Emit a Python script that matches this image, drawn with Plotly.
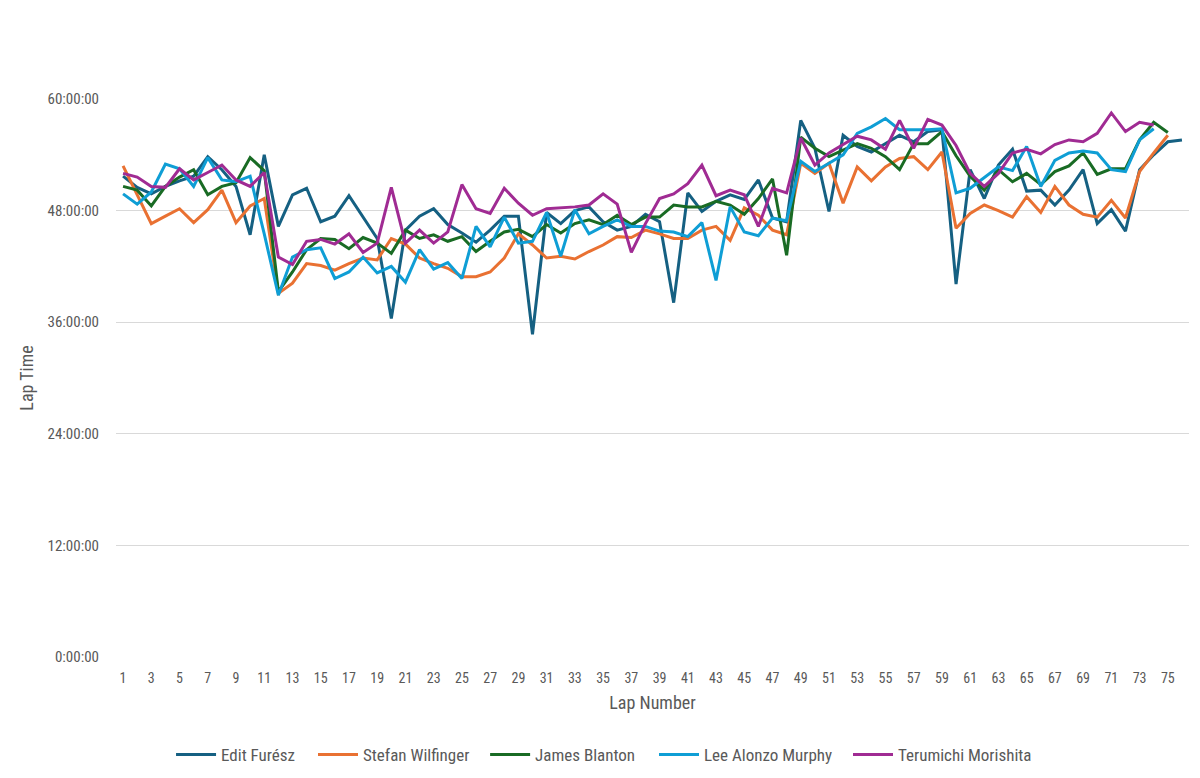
import plotly.graph_objects as go

edit_furesz = [51.7, 50.5, 49.8, 50.6, 51.2, 51.7, 53.8, 52.4, 50.6, 45.4, 54.0, 46.3, 49.7, 50.4, 46.8, 47.4, 49.6, 47.3, 45.0, 36.4,
               45.9, 47.4, 48.2, 46.5, 45.6, 44.6, 45.9, 47.4, 47.4, 34.7, 47.8, 46.6, 48.0, 48.4, 46.8, 45.9, 46.3, 47.6, 46.8, 38.1,
               49.9, 47.9, 49.0, 49.7, 49.2, 51.3, 47.2, 46.8, 57.7, 54.7, 47.9, 56.1, 54.9, 54.3, 55.2, 56.1, 55.4, 56.5, 56.7, 40.1,
               52.4, 49.3, 52.9, 54.6, 50.1, 50.2, 48.6, 50.2, 52.4, 46.6, 48.1, 45.8, 52.4, 54.0, 55.4, 55.6]
stefan_wilfinger = [52.8, 49.7, 46.6, 47.4, 48.2, 46.7, 48.1, 50.2, 46.7, 48.5, 49.3, 39.1, 40.2, 42.3, 42.1, 41.6, 42.3, 42.9, 42.7, 45.0,
                    44.4, 42.9, 42.3, 41.8, 40.9, 40.9, 41.4, 42.9, 45.5, 44.3, 42.9, 43.1, 42.8, 43.6, 44.3, 45.2, 45.1, 45.9, 45.5, 45.0,
                    45.0, 45.9, 46.3, 44.8, 48.3, 47.5, 45.9, 45.4, 53.1, 52.0, 53.1, 48.8, 52.7, 51.2, 52.7, 53.6, 53.8, 52.4, 54.3, 46.1,
                    47.7, 48.6, 48.0, 47.3, 49.5, 47.8, 50.6, 48.6, 47.6, 47.3, 49.1, 47.2, 52.2, 54.2, 56.1]
james_blanton = [50.6, 50.2, 48.5, 50.6, 51.6, 52.4, 49.7, 50.6, 51.0, 53.7, 52.3, 39.3, 41.4, 43.8, 45.0, 44.9, 43.9, 45.1, 44.5, 43.4,
                 45.9, 45.0, 45.4, 44.7, 45.2, 43.6, 44.7, 45.7, 46.0, 45.2, 46.5, 45.6, 46.6, 47.0, 46.5, 47.5, 46.5, 47.3, 47.3, 48.6,
                 48.4, 48.4, 49.0, 48.6, 47.6, 49.3, 51.4, 43.2, 55.9, 54.7, 53.8, 54.5, 55.2, 54.7, 53.8, 52.4, 55.2, 55.2, 56.5, 53.9,
                 51.7, 50.2, 52.4, 51.1, 52.0, 50.8, 52.2, 52.8, 54.2, 51.9, 52.5, 52.5, 55.6, 57.5, 56.4]
lee_alonzo_murphy = [49.8, 48.7, 50.0, 53.0, 52.5, 50.6, 53.7, 51.3, 51.1, 51.7, 45.5, 38.9, 43.0, 43.8, 44.0, 40.7, 41.4, 43.0, 41.3, 42.0,
                     40.3, 43.8, 41.7, 42.4, 40.7, 46.3, 44.1, 47.3, 44.5, 44.7, 47.8, 43.1, 48.1, 45.5, 46.3, 47.0, 46.3, 46.3, 45.8, 45.7,
                     45.2, 46.7, 40.5, 48.4, 45.7, 45.3, 47.2, 46.9, 53.3, 52.2, 53.1, 54.0, 56.3, 57.0, 57.9, 56.7, 56.7, 56.7, 56.8, 49.9,
                     50.4, 51.6, 52.7, 52.3, 54.9, 50.6, 53.4, 54.2, 54.4, 54.2, 52.4, 52.2, 55.6, 56.8]
terumichi_morishita = [52.0, 51.6, 50.6, 50.5, 52.5, 51.3, 52.1, 52.9, 51.3, 50.6, 52.1, 43.0, 42.2, 44.7, 44.9, 44.4, 45.5, 43.5, 44.5, 50.5,
                       44.5, 45.9, 44.5, 45.7, 50.8, 48.2, 47.7, 50.4, 48.8, 47.5, 48.2, 48.3, 48.4, 48.6, 49.8, 48.7, 43.5, 46.6, 49.3, 49.8,
                       50.9, 52.9, 49.6, 50.2, 49.7, 46.3, 50.4, 49.9, 55.8, 52.9, 54.2, 55.1, 56.0, 55.6, 54.6, 57.7, 54.7, 57.8, 57.2, 55.0,
                       52.0, 50.6, 52.0, 54.2, 54.6, 54.1, 55.1, 55.6, 55.4, 56.3, 58.5, 56.5, 57.5, 57.2]

series_names = ["Edit Furész", "Stefan Wilfinger", "James Blanton", "Lee Alonzo Murphy", "Terumichi Morishita"]
series_values = [edit_furesz, stefan_wilfinger, james_blanton, lee_alonzo_murphy, terumichi_morishita]
colors = ["#156082", "#E97132", "#196B24", "#0F9ED5", "#A02B93"]

y_tick_vals = [0, 12, 24, 36, 48, 60]
y_tick_text = ["0:00:00", "12:00:00", "24:00:00", "36:00:00", "48:00:00", "60:00:00"]
x_tick_vals = list(range(1, 76, 2))

FONT = "Liberation Sans Narrow, Roboto Condensed, Liberation Sans, sans-serif"
TEXT = "#595959"

# legend entry positions (paper x) for one legend per series
legend_x = [0.0513, 0.1836, 0.3440, 0.5014, 0.6822]
legend_ids = ["legend", "legend2", "legend3", "legend4", "legend5"]

fig = go.Figure()
for name, vals, col, lid in zip(series_names, series_values, colors, legend_ids):
    fig.add_trace(go.Scatter(
        x=list(range(1, len(vals) + 1)), y=vals, mode="lines", name=name,
        line=dict(color=col, width=3), legend=lid,
    ))

legend_layout = {}
for lid, lx in zip(legend_ids, legend_x):
    legend_layout[lid] = dict(
        orientation="h", x=lx, xanchor="left", y=-0.1756, yanchor="middle",
        font=dict(family=FONT, size=17, color=TEXT), itemwidth=40,
        bgcolor="rgba(0,0,0,0)", borderwidth=0,
    )

fig.update_layout(
    width=1200, height=778,
    margin=dict(l=108, r=19, t=91, b=129, autoexpand=False),
    paper_bgcolor="white", plot_bgcolor="white",
    font=dict(family=FONT, size=14, color=TEXT),
    showlegend=True,
    xaxis=dict(
        range=[0.5, 76.5], tickmode="array", tickvals=x_tick_vals,
        ticktext=[str(v) for v in x_tick_vals], showgrid=False, zeroline=False,
        showline=False, ticks="", automargin=False, ticklabelstandoff=11,
        tickfont=dict(size=14, color=TEXT),
        title=dict(text="Lap Number", font=dict(size=18, color=TEXT), standoff=11),
    ),
    yaxis=dict(
        range=[0, 60], tickmode="array", tickvals=y_tick_vals, ticktext=y_tick_text,
        showgrid=True, gridcolor="#d9d9d9", gridwidth=1, zeroline=False, showline=False,
        ticks="", automargin=False, ticklabelstandoff=16,
        tickfont=dict(size=15, color=TEXT),
        title=dict(text="Lap Time", font=dict(size=18, color=TEXT), standoff=9),
    ),
    **legend_layout,
)

fig.write_html("out.html")
